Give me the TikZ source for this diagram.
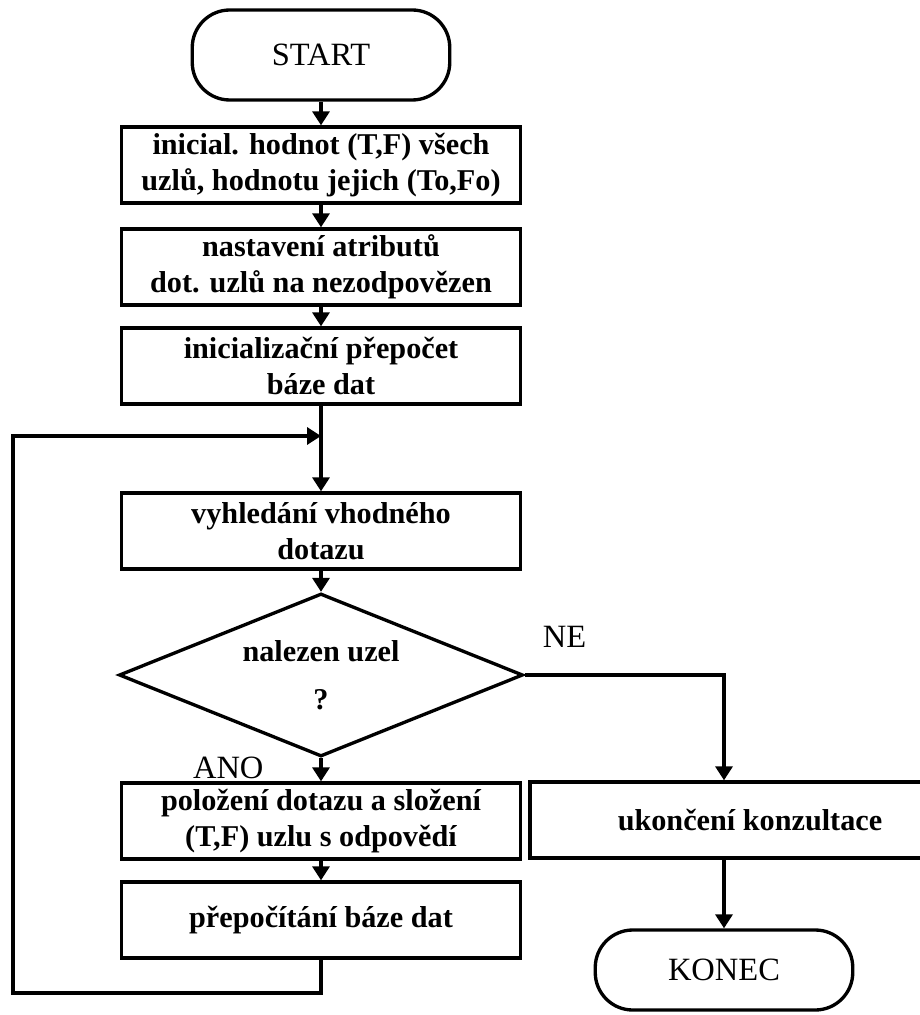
\documentclass[tikz,border=0pt]{standalone}
\usepackage{fontspec}
\setmainfont{Liberation Serif}
\usetikzlibrary{shapes.geometric,arrows.meta}

\begin{document}
\begin{tikzpicture}[
  krok/.style={draw,line width=1.9pt,rectangle,minimum width=7.98cm,minimum height=1.52cm,align=center,inner sep=2pt,font=\fontsize{17.2}{20.5}\selectfont\bfseries},
  okraj/.style={draw,line width=1.9pt,rectangle,rounded corners=0.75cm,minimum width=5.15cm,font=\fontsize{18.5}{21}\selectfont},
  sipka/.style={-{Triangle[width=0.34cm,length=0.28cm]},line width=1.9pt}
]
\useasboundingbox (0,0) rectangle (18.38,-20.3);

\path (6.42,-1.1) node[okraj,minimum height=1.8cm](start){START} ;
\path (6.42,-3.3) node[krok](init){inicial. hodnot (T,F) všech\\uzlů, hodnotu jejich (To,Fo)} ;
\path (6.42,-5.34) node[krok](atrib){nastavení atributů\\dot. uzlů na nezodpovězen} ;
\path (6.42,-7.32) node[krok](prepocet){inicializační přepočet\\báze dat} ;
\path (6.42,-10.62) node[krok](hledej){vyhledání vhodného\\dotazu} ;
\path (6.42,-13.5) node[draw,line width=1.9pt,diamond,aspect=2.5,inner sep=0pt,minimum width=8.08cm,minimum height=3.26cm,align=center,font=\fontsize{17.2}{27}\selectfont\bfseries](uzel){nalezen uzel\\?} ;
\path (6.42,-16.42) node[krok](dotaz){položení dotazu a složení\\(T,F) uzlu s odpovědí} ;
\path (6.42,-18.4) node[krok](baze){přepočítání báze dat} ;
\path (15.0,-16.4) node[krok,minimum width=8.8cm](konzult){ukončení konzultace} ;
\path (14.48,-19.4) node[okraj,minimum height=1.6cm](konec){KONEC} ;

\coordinate (spoj) at (6.42,-8.72);
\coordinate (smycka) at (0.26,-19.86);

\draw[sipka] (start) -- (init);
\draw[sipka] (init) -- (atrib);
\draw[sipka] (atrib) -- (prepocet);
\draw[sipka] (prepocet) -- (hledej);
\draw[sipka] (hledej) -- (uzel);
\draw[sipka] (uzel) -- node[pos=0.4,left=1.0cm,font=\fontsize{18.5}{21}\selectfont] {ANO} (dotaz);
\draw[sipka] (dotaz) -- (baze);
\draw[sipka] (baze.south) |- (smycka) |- (spoj);
\draw[sipka] (uzel.east) -| node[pos=0.1,above=0.4cm,font=\fontsize{18.5}{21}\selectfont] {NE} (konec.north |- konzult.north);
\draw[sipka] (konec.north |- konzult.south) -- (konec.north);

\end{tikzpicture}
\end{document}
